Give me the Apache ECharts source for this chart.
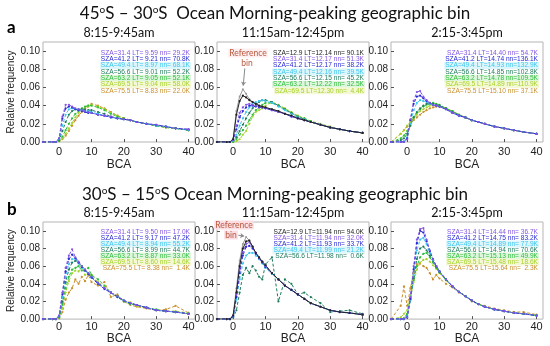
<!DOCTYPE html>
<html><head><meta charset="utf-8">
<script src="https://cdn.jsdelivr.net/npm/echarts@6/dist/echarts.min.js"></script>
<style>html,body{margin:0;padding:0;background:#fff}#c{width:550px;height:346px}</style>
</head><body><div id="c"></div>
<script>
// ---------- DATA ----------
const xBCA = [-5,-2,-1,0,1,2,3,4,5,6,7,8,9,10,12,14,16,18,20,22,24,27,30,33,36,40];
const xTickVals = [0,10,20,30,40];
const yTickVals = [0,0.02,0.04,0.06,0.08,0.10];

const titleA = '45{s|o}S – 30{s|o}S  Ocean Morning-peaking geographic bin';
const titleB = '30{s|o}S – 15{s|o}S Ocean Morning-peaking geographic bin';
const timeBins = ['8:15-9:45am','11:15am-12:45pm','2:15-3:45pm'];

// panel a, 8:15-9:45am
const labelsA1 = ['SZA=31.4 LT= 9.59 nn= 29.2K','SZA=41.2 LT= 9.21 nn= 70.8K','SZA=49.4 LT= 8.97 nn= 68.1K','SZA=56.6 LT= 9.01 nn= 52.2K','SZA=63.2 LT= 9.05 nn= 52.1K','SZA=69.5 LT= 9.04 nn= 58.0K','SZA=75.5 LT= 8.83 nn= 22.0K'];
const valuesA1 = [
 [0,0,0,.004,.028,.041,.041,.039,.037,.036,.035,.034,.033,.032,.030,.029,.028,.026,.025,.024,.022,.020,.019,.017,.015,.014],
 [0,0,0,.004,.026,.037,.039,.038,.036,.035,.034,.033,.032,.032,.030,.029,.027,.026,.025,.024,.022,.020,.019,.017,.015,.014],
 [0,0,0,.003,.018,.030,.036,.037,.036,.035,.035,.034,.034,.033,.031,.029,.027,.026,.025,.024,.022,.020,.018,.017,.015,.013],
 [0,0,0,.002,.012,.022,.030,.034,.036,.036,.036,.036,.035,.035,.033,.031,.028,.026,.025,.024,.022,.020,.018,.017,.015,.013],
 [0,0,0,.001,.006,.013,.020,.026,.031,.034,.037,.039,.040,.040,.038,.035,.031,.028,.026,.024,.022,.020,.018,.016,.015,.013],
 [0,0,0,.001,.004,.009,.015,.021,.027,.032,.035,.038,.040,.041,.039,.036,.032,.029,.026,.024,.022,.020,.018,.016,.015,.013],
 [0,0,0,.001,.003,.007,.012,.018,.024,.029,.033,.036,.039,.042,.040,.037,.033,.029,.026,.024,.022,.020,.018,.016,.015,.013]
];
// panel a, 11:15am-12:45pm
const labelsA2 = ['SZA=12.9 LT=12.14 nn= 90.1K','SZA=31.4 LT=12.17 nn= 51.3K','SZA=41.2 LT=12.17 nn= 38.2K','SZA=49.4 LT=12.16 nn= 39.5K','SZA=56.6 LT=12.15 nn= 45.2K','SZA=63.2 LT=12.22 nn= 32.5K','SZA=69.5 LT=12.30 nn=  4.4K'];
const valuesA2 = [
 [0,0,0,.003,.030,.045,.051,.049,.046,.044,.042,.040,.039,.038,.036,.034,.031,.029,.026,.024,.022,.019,.016,.014,.012,.010],
 [0,0,0,.002,.018,.032,.038,.041,.042,.041,.040,.039,.038,.037,.035,.033,.031,.028,.026,.024,.022,.019,.016,.014,.012,.010],
 [0,0,0,.002,.014,.027,.034,.038,.040,.040,.039,.038,.038,.037,.035,.033,.031,.028,.026,.024,.022,.019,.016,.014,.012,.010],
 [0,0,0,.001,.008,.018,.026,.033,.038,.042,.044,.045,.046,.045,.043,.039,.035,.031,.027,.025,.022,.019,.016,.014,.012,.010],
 [0,0,0,.001,.005,.012,.019,.026,.032,.037,.041,.044,.046,.046,.044,.040,.036,.032,.028,.025,.022,.019,.016,.014,.012,.010],
 [0,0,0,0,.003,.008,.013,.018,.024,.030,.035,.038,.041,.043,.043,.040,.036,.032,.028,.026,.023,.019,.016,.014,.012,.010],
 [0,0,0,0,.001,.003,.008,.012,.020,.028,.033,.035,.037,.040,.044,.041,.037,.033,.029,.026,.023,.020,.017,.014,.012,.010]
];
const refA2 = [0,0,0,.004,.034,.050,.058,.053,.047,.044,.042,.040,.039,.038,.036,.034,.031,.029,.026,.024,.022,.019,.016,.014,.012,.010];
// panel a, 2:15-3:45pm
const labelsA3 = ['SZA=31.4 LT=14.40 nn= 54.7K','SZA=41.2 LT=14.74 nn=136.1K','SZA=49.4 LT=14.93 nn=132.9K','SZA=56.6 LT=14.85 nn=102.8K','SZA=63.2 LT=14.78 nn=109.5K','SZA=69.5 LT=14.89 nn=110.9K','SZA=75.5 LT=15.10 nn= 37.1K'];
const valuesA3 = [
 [0,0,0,.003,.025,.045,.055,.056,.050,.046,.043,.041,.040,.039,.036,.032,.029,.027,.024,.022,.020,.017,.015,.013,.011,.009],
 [0,0,0,.004,.024,.042,.050,.051,.048,.045,.043,.041,.040,.039,.036,.032,.029,.027,.024,.022,.020,.017,.015,.013,.011,.009],
 [0,0,.001,.005,.020,.035,.043,.046,.045,.044,.042,.041,.040,.039,.036,.032,.029,.027,.024,.022,.020,.017,.015,.013,.011,.009],
 [0,.002,.004,.009,.018,.027,.033,.037,.040,.042,.042,.042,.041,.040,.037,.033,.030,.027,.024,.022,.020,.017,.015,.013,.011,.009],
 [0,.004,.007,.012,.020,.027,.032,.036,.039,.041,.042,.043,.042,.041,.037,.034,.030,.027,.024,.022,.020,.017,.015,.013,.011,.009],
 [0,.009,.013,.018,.022,.026,.030,.034,.036,.038,.040,.041,.041,.040,.037,.034,.030,.027,.024,.022,.020,.017,.015,.013,.011,.009],
 [0,.009,.013,.017,.021,.024,.027,.030,.033,.035,.037,.038,.039,.039,.037,.034,.030,.027,.024,.022,.020,.017,.015,.013,.011,.009]
];
// panel b, 8:15-9:45am
const labelsB1 = ['SZA=31.4 LT= 9.50 nn= 17.0K','SZA=41.2 LT= 9.17 nn= 47.2K','SZA=49.4 LT= 8.94 nn= 55.2K','SZA=56.6 LT= 8.99 nn= 44.7K','SZA=63.2 LT= 8.87 nn= 33.0K','SZA=69.5 LT= 8.60 nn= 14.6K','SZA=75.5 LT= 8.38 nn=  1.4K'];
const valuesB1 = [
 [0,0,0,.004,.030,.058,.072,.079,.070,.065,.060,.056,.052,.048,.041,.035,.030,.026,.021,.018,.016,.013,.010,.009,.008,.006],
 [0,0,0,.004,.028,.054,.068,.073,.069,.064,.059,.055,.051,.047,.040,.034,.030,.025,.021,.018,.016,.013,.010,.009,.008,.006],
 [0,0,0,.003,.025,.048,.062,.068,.068,.063,.058,.055,.051,.047,.040,.035,.030,.025,.021,.018,.016,.013,.010,.009,.008,.006],
 [0,0,0,.002,.020,.042,.056,.064,.066,.064,.060,.056,.052,.048,.041,.035,.030,.026,.021,.018,.016,.013,.010,.009,.008,.006],
 [0,0,0,.002,.016,.035,.048,.056,.058,.060,.055,.055,.058,.050,.045,.038,.030,.026,.020,.017,.016,.013,.011,.009,.008,.006],
 [0,0,0,.001,.012,.030,.043,.052,.055,.054,.060,.050,.052,.050,.042,.036,.030,.025,.020,.019,.015,.013,.010,.009,.009,.007],
 [0,0,0,.001,.008,.022,.030,.035,.045,.040,.048,.043,.050,.042,.038,.042,.025,.028,.020,.016,.014,.012,.010,.011,.015,.007]
];
// panel b, 11:15am-12:45pm
const labelsB2 = ['SZA=12.9 LT=11.94 nn= 94.0K','SZA=31.4 LT=11.94 nn= 32.0K','SZA=41.2 LT=11.93 nn= 33.7K','SZA=49.4 LT=11.99 nn= 21.2K','SZA=56.6 LT=11.98 nn=  0.6K'];
const valuesB2 = [
 [0,0,0,.004,.030,.060,.080,.088,.089,.082,.075,.070,.065,.061,.052,.045,.038,.033,.028,.023,.018,.014,.010,.008,.007,.005],
 [0,0,0,.004,.028,.056,.076,.085,.087,.082,.075,.070,.065,.060,.052,.045,.038,.033,.028,.023,.018,.014,.010,.008,.007,.005],
 [0,0,0,.003,.025,.052,.072,.082,.083,.080,.074,.069,.064,.059,.052,.045,.038,.033,.028,.023,.018,.014,.010,.008,.007,.005],
 [0,0,0,.003,.022,.045,.063,.072,.075,.075,.072,.068,.063,.058,.051,.045,.038,.033,.028,.023,.018,.014,.010,.008,.007,.005],
 [0,0,0,.002,.010,.030,.050,.058,.052,.060,.055,.048,.045,.062,.070,.020,.045,.040,.028,.030,.025,.018,.008,.009,.010,.006]
];
const refB2 = [0,0,0,.005,.035,.066,.085,.093,.089,.082,.075,.070,.065,.061,.052,.045,.038,.033,.028,.023,.018,.014,.010,.008,.007,.005];
// panel b, 2:15-3:45pm
const labelsB3 = ['SZA=31.4 LT=14.44 nn= 36.7K','SZA=41.2 LT=14.75 nn= 83.2K','SZA=49.4 LT=14.89 nn= 77.9K','SZA=56.6 LT=14.94 nn= 70.6K','SZA=63.2 LT=15.13 nn= 49.9K','SZA=69.5 LT=15.48 nn= 18.6K','SZA=75.5 LT=15.64 nn=  2.3K'];
const valuesB3 = [
 [0,0,0,.002,.025,.060,.090,.102,.103,.090,.078,.068,.060,.054,.045,.037,.031,.026,.021,.017,.014,.011,.009,.007,.006,.004],
 [0,0,0,.002,.023,.056,.086,.100,.098,.088,.077,.068,.060,.054,.045,.037,.031,.026,.021,.017,.014,.011,.009,.007,.006,.004],
 [0,0,0,.003,.022,.050,.078,.090,.092,.085,.075,.067,.060,.054,.045,.037,.031,.026,.021,.017,.014,.011,.009,.007,.006,.004],
 [0,0,0,.004,.022,.046,.068,.080,.082,.078,.072,.066,.059,.053,.045,.037,.031,.026,.021,.017,.014,.011,.009,.007,.006,.004],
 [0,0,.001,.006,.024,.044,.060,.070,.074,.075,.070,.064,.058,.053,.044,.037,.031,.026,.021,.017,.014,.011,.009,.007,.006,.004],
 [0,.002,.006,.010,.025,.042,.056,.064,.067,.068,.065,.061,.057,.052,.044,.037,.031,.026,.021,.017,.014,.011,.009,.007,.006,.004],
 [0,.015,.037,.015,.035,.052,.062,.063,.060,.058,.052,.045,.050,.046,.040,.036,.030,.026,.020,.017,.015,.012,.010,.008,.008,.005]
];

// ---------- STYLE ----------
const colorBySZA = {'12.9':'#222222','31.4':'#8455e4','41.2':'#2727d4','49.4':'#3cc6ef','56.6':'#1f7d5c','63.2':'#2ebf3b','69.5':'#a5d22b','75.5':'#c98f2b'};
const bgBySZA = {'49.4':'#dcf6fb','63.2':'#def6de','69.5':'#f4f8d4'};
const panels = [
  {labels: labelsA1, values: valuesA1, ref: null},
  {labels: labelsA2, values: valuesA2, ref: refA2},
  {labels: labelsA3, values: valuesA3, ref: null},
  {labels: labelsB1, values: valuesB1, ref: null},
  {labels: labelsB2, values: valuesB2, ref: refB2},
  {labels: labelsB3, values: valuesB3, ref: null}
];
const lefts = [43, 217, 391], tops = [42, 222], heights = [100, 98], W = 152;
const rowStart = [53, 232], rowStep = [6.3, 6.0];
const FONT = 'Liberation Sans, Arial, sans-serif';

const grid = [], xAxis = [], yAxis = [], series = [], graphic = [];
panels.forEach((p, i) => {
  const row = Math.floor(i / 3), col = i % 3;
  grid.push({left: lefts[col], top: tops[row], width: W, height: heights[row], show: true,
    borderColor: '#b5b5b5', borderWidth: 1, backgroundColor: 'transparent'});
  xAxis.push({type: 'value', gridIndex: i, min: -5, max: 42,
    axisLine: {show: false, onZero: false},
    axisTick: {show: true, inside: true, length: 3, customValues: xTickVals, lineStyle: {color: '#555'}},
    axisLabel: {customValues: xTickVals, fontSize: 11, color: '#222', fontFamily: FONT, margin: row === 0 ? 4 : 2},
    splitLine: {show: false},
    name: 'BCA', nameLocation: 'middle', nameGap: row === 0 ? 17 : 11,
    nameTextStyle: {fontSize: 12, color: '#222', fontFamily: FONT}});
  yAxis.push({type: 'value', gridIndex: i, min: 0, max: 0.11,
    axisLine: {show: false, onZero: false},
    axisTick: {show: true, inside: true, length: 3, customValues: yTickVals, lineStyle: {color: '#555'}},
    axisLabel: {customValues: yTickVals, fontSize: 10, color: '#222', fontFamily: FONT, margin: 3,
      formatter: v => v.toFixed(2)},
    splitLine: {show: false},
    name: col === 0 ? 'Relative frequency' : '', nameLocation: 'middle', nameGap: 26,
    nameTextStyle: {fontSize: 10, color: '#222', fontFamily: FONT}});
  if (p.ref) {
    const isA = row === 0;
    series.push({type: 'line', xAxisIndex: i, yAxisIndex: i, z: 1,
      data: xBCA.map((x, j) => [x, p.ref[j]]),
      symbol: 'circle', symbolSize: 2, color: '#9a9a9a',
      lineStyle: {width: 1, color: '#9a9a9a'},
      markLine: {silent: true, symbol: ['none', 'arrow'], symbolSize: 4,
        lineStyle: {color: '#8a8a8a', width: 1, type: 'solid'}, label: {show: false},
        data: isA ? [[{coord: [3.6, 0.081]}, {coord: [3.1, 0.062]}]]
                  : [[{coord: [1.6, 0.095]}, {coord: [3.4, 0.094]}]]}
    });
  }
  for (let k = p.values.length - 1; k >= 0; k--) {
    const sza = p.labels[k].substr(4, 4);
    const c = colorBySZA[sza];
    const solid = sza === '12.9';
    series.push({type: 'line', xAxisIndex: i, yAxisIndex: i, z: 2,
      data: xBCA.map((x, j) => [x, p.values[k][j]]),
      symbol: 'circle', symbolSize: 2.2, color: c,
      lineStyle: {width: 1, color: c, type: solid ? 'solid' : [3, 2]}});
  }
  p.labels.forEach((lab, k) => {
    const sza = lab.substr(4, 4);
    graphic.push({type: 'text', x: lefts[col] + W - 4, y: rowStart[row] + k * rowStep[row], z: 10,
      style: {text: lab, fill: colorBySZA[sza], fontSize: 6.6, fontFamily: FONT,
        align: 'right', verticalAlign: 'middle', textAlign: 'right', textVerticalAlign: 'middle',
        backgroundColor: bgBySZA[sza] || 'transparent', padding: [0, 1]}});
  });
  graphic.push({type: 'text', x: lefts[col] + W / 2, y: row === 0 ? 33 : 213,
    style: {text: timeBins[col], fill: '#111', fontSize: 12.5, fontFamily: 'Lato',
      align: 'center', verticalAlign: 'middle', textAlign: 'center', textVerticalAlign: 'middle'}});
});
// panel letters
graphic.push({type: 'text', x: 7, y: 28, style: {text: 'a', fill: '#000', fontSize: 17, fontWeight: 'bold', fontFamily: 'Lato', align: 'left', verticalAlign: 'middle', textAlign: 'left', textVerticalAlign: 'middle'}});
graphic.push({type: 'text', x: 7, y: 210, style: {text: 'b', fill: '#000', fontSize: 17, fontWeight: 'bold', fontFamily: 'Lato', align: 'left', verticalAlign: 'middle', textAlign: 'left', textVerticalAlign: 'middle'}});
// reference bin annotations
const refTxt = (t, x, y, bg) => ({type: 'text', x: x, y: y, z: 11,
  style: {text: t, fill: '#b95a3e', fontSize: 8.5, fontFamily: 'Lato', align: 'center', verticalAlign: 'middle',
    textAlign: 'center', textVerticalAlign: 'middle', backgroundColor: bg, padding: [0, 1]}});
graphic.push(refTxt('Reference', 248, 53, '#fdeef0'));
graphic.push(refTxt('bin', 247, 63, 'transparent'));
graphic.push(refTxt('Reference', 234, 225, '#fbdde3'));
graphic.push(refTxt('bin', 231, 235, '#fbdde3'));

const richSup = {s: {fontSize: 10, verticalAlign: 'top', fontFamily: 'Lato', color: '#111'}};
const option = {
  animation: false,
  backgroundColor: '#fff',
  title: [
    {text: titleA, left: 'center', top: 0, textStyle: {fontSize: 17, fontWeight: 'normal', fontFamily: 'Lato', color: '#111', rich: richSup}},
    {text: titleB, left: 'center', top: 181, textStyle: {fontSize: 17, fontWeight: 'normal', fontFamily: 'Lato', color: '#111', rich: richSup}}
  ],
  grid, xAxis, yAxis, series, graphic
};
const chart = echarts.init(document.getElementById('c'), null, {renderer: 'canvas'});
chart.setOption(option);
</script></body></html>
